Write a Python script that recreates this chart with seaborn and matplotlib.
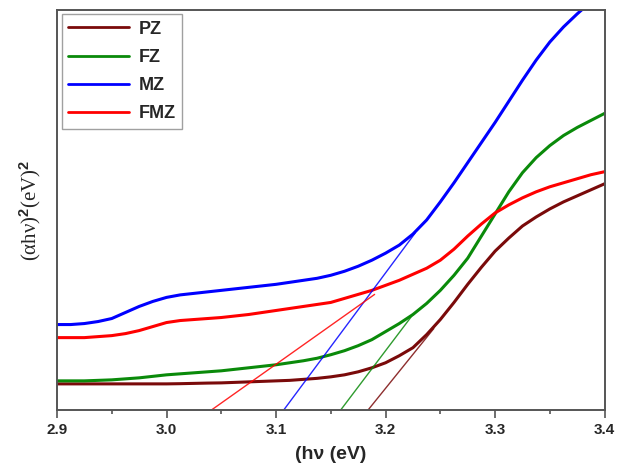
"""
Tauc plot of PZ / FZ / MZ / FMZ with band-gap tangent lines
"""

import numpy as np
import pandas as pd
import matplotlib
matplotlib.use("Agg")
import matplotlib.pyplot as plt
import seaborn as sns

# photon energy (eV), 0.0125 eV steps
energy = [2.9000, 2.9125, 2.9250, 2.9375, 2.9500, 2.9625, 2.9750, 2.9875,
          3.0000, 3.0125, 3.0250, 3.0375, 3.0500, 3.0625, 3.0750, 3.0875,
          3.1000, 3.1125, 3.1250, 3.1375, 3.1500, 3.1625, 3.1750, 3.1875,
          3.2000, 3.2125, 3.2250, 3.2375, 3.2500, 3.2625, 3.2750, 3.2875,
          3.3000, 3.3125, 3.3250, 3.3375, 3.3500, 3.3625, 3.3750, 3.3875,
          3.4000]

# (alpha h nu)^2, arbitrary units
pz = [26, 26, 26, 26, 26, 26, 26, 26,
      26, 26.2, 26.5, 26.8, 27, 27.5, 28, 28.5,
      29, 29.5, 30.5, 31.5, 33, 35, 38, 42,
      47, 54, 62, 75, 90, 107, 125, 142,
      158, 171, 183, 192, 200, 207, 213, 219,
      225]
fz = [29, 29, 29, 29.5, 30, 31, 32, 33.5,
      35, 36, 37, 38, 39, 40.5, 42, 43.5,
      45, 47, 49, 51.5, 55, 59, 64, 70,
      78, 86, 95, 106, 119, 134, 151, 173,
      195, 217, 236, 251, 263, 273, 281, 288,
      295]
mz = [85, 85, 86, 88, 91, 97, 103, 108,
      112, 114.5, 116, 117.5, 119, 120.5, 122, 123.5,
      125, 127, 129, 131, 134, 138, 143, 149,
      156, 164, 175, 189, 207, 226, 246, 266,
      286, 307, 328, 348, 366, 381, 394, 406,
      417]
fmz = [72, 72, 72, 73, 74, 76, 79, 83,
       87, 89, 90, 91, 92, 93.5, 95, 97,
       99, 101, 103, 105, 107, 111, 115, 119,
       124, 129, 135, 141, 149, 160, 173, 185,
       196, 204, 211, 217, 222, 226, 230, 234,
       237]

samples = ["PZ", "FZ", "MZ", "FMZ"]
colors = ["#7a0a0a", "#0a8a0a", "#0000ff", "#ff0000"]

# tangent lines: x-intercept (band gap) and upper end point
gap_start = [3.184, 3.159, 3.107, 3.041]
tan_end_x = [3.244, 3.225, 3.227, 3.190]
tan_end_y = [81, 95, 176, 115]

sns.set_style("white")
plt.rcParams["font.family"] = ["Liberation Sans", "DejaVu Sans"]
plt.rcParams["mathtext.fontset"] = "custom"
plt.rcParams["mathtext.rm"] = "Liberation Serif"
plt.rcParams["mathtext.it"] = "Liberation Serif"
plt.rcParams["mathtext.bf"] = "Liberation Sans:bold"

df = pd.DataFrame({
    "energy": energy * 4,
    "value": pz + fz + mz + fmz,
    "sample": np.repeat(samples, len(energy)),
})

fig = plt.figure(figsize=(6.23, 4.67), dpi=100)
ax = fig.add_axes([0.0915, 0.122, 0.879, 0.857])

sns.lineplot(data=df, x="energy", y="value", hue="sample", hue_order=samples,
             palette=colors, linewidth=2.2, ax=ax)

for s, c, x0, x1, y1 in zip(samples, colors, gap_start, tan_end_x, tan_end_y):
    tan = pd.DataFrame({"energy": [x0, x1], "value": [0, y1]})
    sns.lineplot(data=tan, x="energy", y="value", color=c, linewidth=1.0,
                 alpha=0.85, ax=ax, legend=False)

ax.set_xlim(2.9, 3.4)
ax.set_ylim(0, 398)
ax.set_xticks([2.9, 3.0, 3.1, 3.2, 3.3, 3.4])
ax.set_xticks(np.arange(2.95, 3.4, 0.1), minor=True)
ax.set_yticks([])
ax.tick_params(axis="x", which="major", direction="out", length=6, width=1.2,
               color="#555555", bottom=True, labelsize=11)
ax.tick_params(axis="x", which="minor", direction="out", length=3, width=1.2,
               color="#555555", bottom=True)
for lbl in ax.get_xticklabels():
    lbl.set_fontweight("bold")

for sp in ax.spines.values():
    sp.set_color("#555555")
    sp.set_linewidth(1.4)

ax.set_xlabel("(h\u03bd (eV)", fontsize=14, fontweight="bold", labelpad=6)
ax.set_ylabel(r"$\mathrm{(\alpha h\nu)}^{\mathbf{2}}\mathrm{(eV)}^{\mathbf{2}}$",
              fontsize=15, labelpad=10)

leg = ax.legend(loc="upper left", frameon=True, fancybox=False,
                handlelength=3.4, handletextpad=0.5, borderpad=0.35,
                labelspacing=0.62, borderaxespad=0.25,
                prop={"weight": "bold", "size": 13})
leg.get_frame().set_edgecolor("#888888")
leg.get_frame().set_linewidth(1.0)
for line in leg.get_lines():
    line.set_linewidth(2.0)

plt.savefig("out.png", dpi=100)
